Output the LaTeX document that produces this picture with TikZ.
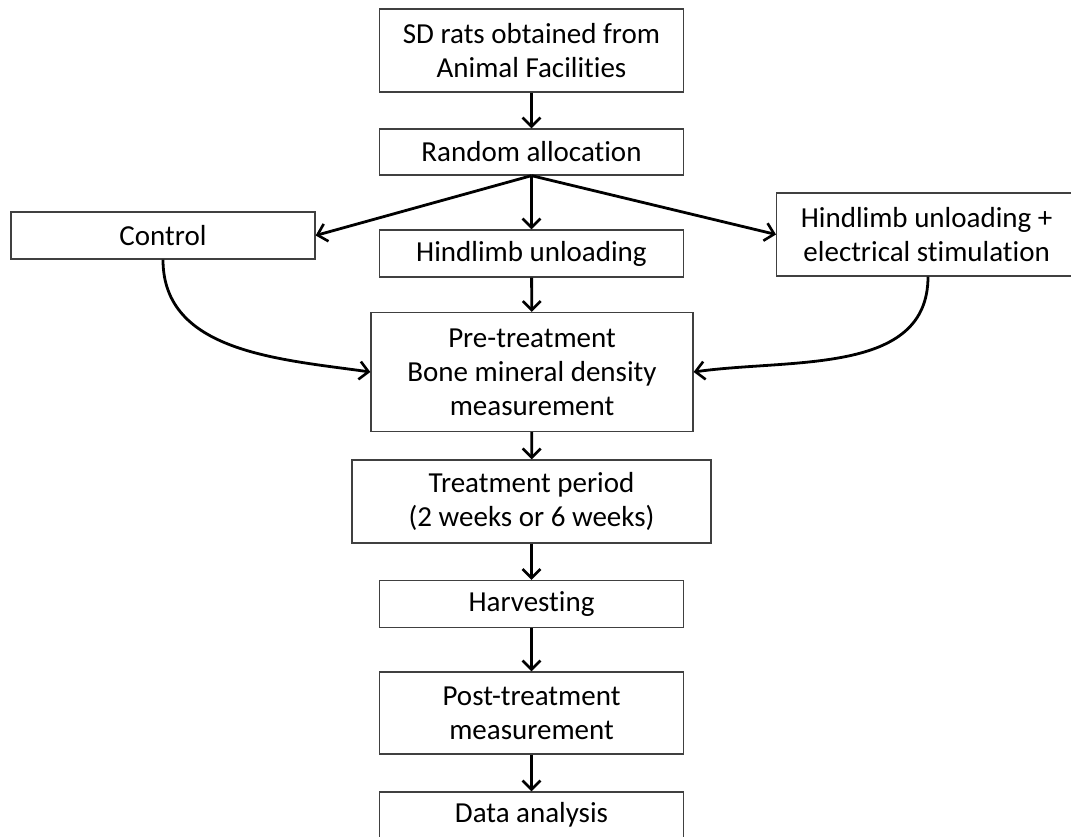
\documentclass[tikz,border=0pt]{standalone}
\usepackage{fontspec}
\setmainfont{Carlito}[Ligatures=NoCommon]
\usetikzlibrary{arrows.meta}
\definecolor{boxline}{HTML}{404040}

\begin{document}
\begin{tikzpicture}[x=1pt,y=-1pt,
        box/.style={draw=boxline,line width=1.3pt,inner sep=0pt,align=center,
            font=\fontsize{29}{34}\selectfont},
        flow/.style={-{Straight Barb[length=9pt,width=18pt,line width=2.6pt]},line width=2.8pt}]
        \useasboundingbox (0,0) rectangle (1071,837);

        \node[box,minimum width=304pt,minimum height=83pt] (rats) at (531.5,50.5) {SD rats obtained from\\Animal Facilities};
        \node[box,minimum width=304pt,minimum height=46pt] (alloc) at (531.5,152) {Random allocation};
        \node[box,minimum width=304pt,minimum height=47pt] (ctrl) at (163,235.5) {Control};
        \node[box,minimum width=304pt,minimum height=47pt] (hu) at (531.5,253.5) {Hindlimb unloading};
        \node[box,minimum width=300pt,minimum height=83pt,anchor=west] (hues) at (776,234.5) {Hindlimb unloading +\\electrical stimulation};
        \node[box,minimum width=322pt,minimum height=119pt] (pre) at (532,372) {Pre-treatment\\Bone mineral density\\measurement};
        \node[box,minimum width=359pt,minimum height=83pt] (treat) at (531.5,501.5) {Treatment period\\(2 weeks or 6 weeks)};
        \node[box,minimum width=304pt,minimum height=47pt] (harv) at (531.5,604) {Harvesting};
        \node[box,minimum width=304pt,minimum height=82pt] (post) at (531.5,713) {Post-treatment\\measurement};
        \node[box,minimum width=304pt,minimum height=46pt] (data) at (531.5,815) {Data analysis};

        \draw[flow] (rats) -- (alloc);
        \draw[flow] (alloc.south) -- (ctrl.east);
        \draw[flow] (alloc.south) -- (hu.north);
        \draw[flow] (alloc.south) -- (hues.west);
        \draw[flow] (hu) -- (pre);
        \draw[flow] (ctrl.south) to[out=-90,in=172] (pre.west);
        \draw[flow] (hues.south-|928,0) to[out=-90,in=8] (pre.east);
        \draw[flow] (pre) -- (treat);
        \draw[flow] (treat) -- (harv);
        \draw[flow] (harv) -- (post);
        \draw[flow] (post) -- (data);
    \end{tikzpicture}
\end{document}
